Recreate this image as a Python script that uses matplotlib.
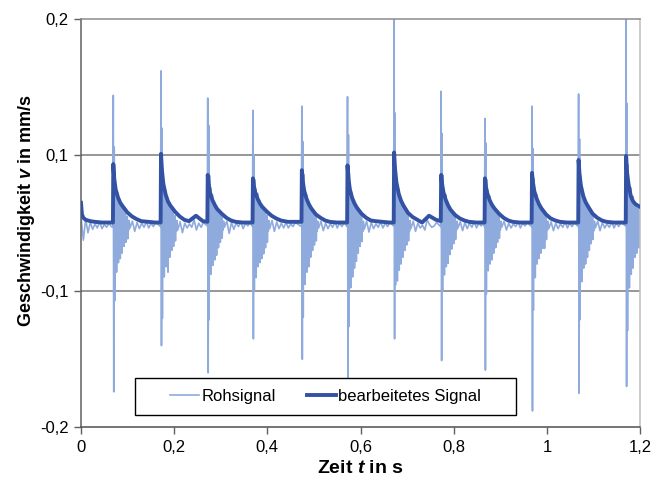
import numpy as np
import matplotlib
matplotlib.use('Agg')
import matplotlib.pyplot as plt
from matplotlib.patches import Rectangle

plt.rcParams['font.family'] = ['Liberation Sans', 'DejaVu Sans']
plt.rcParams['mathtext.fontset'] = 'custom'
plt.rcParams['mathtext.it'] = 'Liberation Sans:italic:bold'
plt.rcParams['mathtext.rm'] = 'Liberation Sans:bold'
plt.rcParams['mathtext.bf'] = 'Liberation Sans:bold'

# times of the impulses in s
spike_t = [0.0693, 0.1717, 0.272, 0.369, 0.474, 0.572, 0.672, 0.773, 0.867, 0.968, 1.068, 1.170]

# raw signal: start (5 ms step), bursts (1 ms step from spike-1ms), tails (5 ms step from spike+36ms)
raw_start = [0.010, -0.025, 0.006, -0.014, 0.001, -0.009, -0.001, -0.007, 0.002, -0.008, -0.002, -0.006, 0.000, -0.005]
raw_bursts = [
    [-0.006, 0.144, -0.174, 0.106, -0.107, 0.061, -0.040, 0.048, -0.072, 0.030, -0.050, 0.044, -0.058, 0.022, -0.035, 0.030, -0.052, 0.012, -0.030, 0.024, -0.044, 0.010, -0.022, 0.018, -0.034, 0.006, -0.018, 0.014, -0.028, 0.004, -0.014, 0.010, -0.023, 0.002, -0.010, 0.004],
    [-0.005, 0.162, -0.140, 0.120, -0.120, 0.080, -0.060, 0.055, -0.079, 0.034, -0.052, 0.048, -0.064, 0.026, -0.040, 0.036, -0.072, 0.016, -0.035, 0.028, -0.050, 0.012, -0.026, 0.020, -0.040, 0.008, -0.022, 0.016, -0.034, 0.005, -0.016, 0.011, -0.026, 0.003, -0.012, 0.004],
    [-0.004, 0.142, -0.160, 0.122, -0.121, 0.070, -0.050, 0.052, -0.075, 0.032, -0.046, 0.042, -0.062, 0.024, -0.038, 0.030, -0.054, 0.014, -0.030, 0.024, -0.047, 0.010, -0.024, 0.018, -0.036, 0.006, -0.018, 0.013, -0.028, 0.004, -0.014, 0.010, -0.022, 0.002, -0.010, 0.003],
    [-0.005, 0.133, -0.135, 0.100, -0.099, 0.064, -0.056, 0.050, -0.080, 0.036, -0.044, 0.044, -0.064, 0.026, -0.040, 0.034, -0.058, 0.018, -0.032, 0.028, -0.052, 0.012, -0.026, 0.022, -0.045, 0.008, -0.022, 0.016, -0.036, 0.005, -0.016, 0.012, -0.028, 0.003, -0.012, 0.004],
    [-0.005, 0.136, -0.150, 0.110, -0.119, 0.072, -0.062, 0.050, -0.090, 0.034, -0.050, 0.042, -0.072, 0.024, -0.044, 0.032, -0.064, 0.016, -0.036, 0.026, -0.050, 0.010, -0.028, 0.020, -0.040, 0.007, -0.022, 0.015, -0.032, 0.004, -0.016, 0.011, -0.026, 0.002, -0.012, 0.003],
    [-0.005, 0.143, -0.165, 0.115, -0.126, 0.074, -0.066, 0.052, -0.095, 0.036, -0.054, 0.044, -0.079, 0.026, -0.046, 0.034, -0.066, 0.016, -0.038, 0.026, -0.056, 0.011, -0.030, 0.020, -0.044, 0.007, -0.024, 0.015, -0.034, 0.004, -0.018, 0.011, -0.027, 0.002, -0.012, 0.003],
    [-0.004, 0.200, -0.135, 0.131, -0.091, 0.082, -0.060, 0.060, -0.085, 0.040, -0.048, 0.050, -0.069, 0.028, -0.042, 0.036, -0.060, 0.018, -0.034, 0.028, -0.050, 0.012, -0.028, 0.021, -0.040, 0.008, -0.022, 0.016, -0.032, 0.005, -0.016, 0.012, -0.026, 0.003, -0.012, 0.004],
    [-0.005, 0.147, -0.151, 0.116, -0.099, 0.070, -0.054, 0.050, -0.076, 0.034, -0.045, 0.042, -0.064, 0.024, -0.040, 0.031, -0.059, 0.015, -0.032, 0.025, -0.046, 0.010, -0.025, 0.019, -0.038, 0.006, -0.019, 0.014, -0.030, 0.004, -0.014, 0.010, -0.024, 0.002, -0.010, 0.003],
    [-0.005, 0.127, -0.158, 0.109, -0.102, 0.064, -0.050, 0.048, -0.070, 0.032, -0.042, 0.040, -0.060, 0.023, -0.036, 0.030, -0.054, 0.014, -0.030, 0.024, -0.044, 0.009, -0.024, 0.018, -0.036, 0.006, -0.018, 0.013, -0.028, 0.004, -0.013, 0.010, -0.022, 0.002, -0.010, 0.003],
    [-0.005, 0.136, -0.188, 0.105, -0.114, 0.066, -0.054, 0.050, -0.080, 0.034, -0.044, 0.042, -0.060, 0.024, -0.038, 0.031, -0.052, 0.015, -0.030, 0.025, -0.044, 0.010, -0.024, 0.019, -0.037, 0.006, -0.020, 0.014, -0.037, 0.004, -0.014, 0.010, -0.024, 0.002, -0.010, 0.003],
    [-0.005, 0.145, -0.175, 0.112, -0.121, 0.070, -0.060, 0.052, -0.086, 0.036, -0.048, 0.044, -0.066, 0.025, -0.040, 0.033, -0.060, 0.016, -0.032, 0.026, -0.050, 0.011, -0.026, 0.020, -0.040, 0.007, -0.020, 0.015, -0.030, 0.004, -0.015, 0.011, -0.024, 0.002, -0.011, 0.003],
    [-0.004, 0.200, -0.170, 0.138, -0.129, 0.086, -0.070, 0.062, -0.095, 0.044, -0.056, 0.052, -0.075, 0.032, -0.048, 0.040, -0.066, 0.022, -0.040, 0.032, -0.050, 0.016, -0.032, 0.026, -0.044, 0.012, -0.026, 0.022, -0.036, 0.010, -0.020, 0.018],
]
raw_tails = [
    [-0.007, 0.003, -0.012, 0.001, -0.008, 0.000, -0.006, 0.002, -0.007, 0.000, -0.005, 0.001],
    [-0.010, 0.002, -0.014, 0.000, -0.007, -0.001, -0.006, 0.005, -0.010, 0.000, -0.006, 0.001],
    [-0.006, 0.003, -0.015, 0.001, -0.009, 0.000, -0.005, 0.002, -0.008, 0.000, -0.004, 0.001],
    [-0.008, 0.004, -0.012, 0.002, -0.008, 0.000, -0.007, 0.001, -0.007, -0.001, -0.005, 0.001],
    [-0.007, 0.003, -0.011, 0.000, -0.008, -0.001, -0.006, 0.002, -0.007, 0.000, -0.005, 0.001],
    [-0.009, 0.003, -0.013, 0.001, -0.008, -0.001, -0.006, 0.002, -0.007, 0.000, -0.005, 0.001],
    [-0.008, 0.003, -0.012, 0.000, -0.007, -0.003, -0.010, 0.005, -0.002, -0.006, -0.004, 0.001],
    [-0.007, 0.002, -0.011, 0.001, -0.008, 0.000, -0.006, 0.002, -0.007, 0.000, -0.004, 0.001],
    [-0.006, 0.003, -0.010, 0.000, -0.007, -0.001, -0.005, 0.002, -0.007, 0.000, -0.004, 0.001],
    [-0.008, 0.002, -0.011, 0.000, -0.008, -0.001, -0.006, 0.002, -0.007, 0.000, -0.005, 0.001],
    [-0.007, 0.003, -0.011, 0.001, -0.007, -0.001, -0.006, 0.002, -0.007, 0.000, -0.005, 0.001],
    [],
]

# processed signal
proc_start_t = [0.0, 0.002, 0.005, 0.01, 0.02, 0.03, 0.045, 0.06]
proc_start = [0.030, 0.013, 0.008, 0.005, 0.003, 0.002, 0.001, 0.001]
proc_dt = [-0.0008, 0.0, 0.002, 0.005, 0.01, 0.015, 0.02, 0.03, 0.04, 0.05, 0.06, 0.075, 0.09]
proc_bursts = [
    [0.001, 0.087, 0.066, 0.050, 0.038, 0.030, 0.025, 0.016, 0.010, 0.006, 0.003, 0.002, 0.001],
    [0.001, 0.101, 0.078, 0.058, 0.042, 0.032, 0.026, 0.017, 0.010, 0.005, 0.003, 0.011, 0.003],
    [0.002, 0.071, 0.058, 0.045, 0.034, 0.027, 0.021, 0.014, 0.008, 0.004, 0.002, 0.001, 0.001],
    [0.001, 0.066, 0.055, 0.045, 0.036, 0.029, 0.024, 0.017, 0.011, 0.007, 0.004, 0.002, 0.002],
    [0.002, 0.078, 0.062, 0.048, 0.036, 0.028, 0.022, 0.013, 0.008, 0.004, 0.002, 0.001, 0.001],
    [0.001, 0.085, 0.066, 0.050, 0.037, 0.029, 0.023, 0.014, 0.008, 0.004, 0.003, 0.002, 0.001],
    [0.001, 0.102, 0.080, 0.060, 0.043, 0.033, 0.026, 0.015, 0.009, 0.005, 0.001, 0.011, 0.005],
    [0.003, 0.071, 0.058, 0.045, 0.034, 0.026, 0.020, 0.012, 0.007, 0.004, 0.002, 0.001, 0.001],
    [0.001, 0.066, 0.054, 0.044, 0.034, 0.027, 0.022, 0.014, 0.008, 0.004, 0.002, 0.001, 0.001],
    [0.001, 0.074, 0.060, 0.047, 0.036, 0.028, 0.022, 0.013, 0.007, 0.004, 0.002, 0.001, 0.001],
    [0.001, 0.093, 0.072, 0.055, 0.040, 0.031, 0.025, 0.014, 0.008, 0.004, 0.002, 0.001, 0.001],
    [0.001, 0.099, 0.075, 0.058, 0.040, 0.032, 0.028, 0.024],
]

x_ticks = [0, 0.2, 0.4, 0.6, 0.8, 1.0, 1.2]
x_labels = ['0', '0,2', '0,4', '0,6', '0,8', '1', '1,2']
y_ticks = [-0.2, -0.1, 0.1, 0.2]
y_labels = ['-0,2', '-0,1', '0,1', '0,2']

t_end = 1.2

# assemble the series
raw_t = [i * 0.005 for i in range(len(raw_start))]
raw_v = list(raw_start)
for k, ts in enumerate(spike_t):
    for i, v in enumerate(raw_bursts[k]):
        raw_t.append(ts - 0.001 + i * 0.001)
        raw_v.append(v)
    for i, v in enumerate(raw_tails[k]):
        raw_t.append(ts + 0.036 + i * 0.005)
        raw_v.append(v)
raw_t = np.array(raw_t)
raw_v = np.array(raw_v)
m = raw_t <= t_end
raw_t, raw_v = raw_t[m], raw_v[m]

proc_t = list(proc_start_t)
proc_v = list(proc_start)
for k, ts in enumerate(spike_t):
    for dt, v in zip(proc_dt, proc_bursts[k]):
        proc_t.append(ts + dt)
        proc_v.append(v)
proc_t = np.array(proc_t)
proc_v = np.array(proc_v)
m = proc_t <= t_end + 1e-9
proc_t, proc_v = proc_t[m], proc_v[m]


# the value axis has equal spacing between 0,2 / 0,1 / -0,1 / -0,2
def fwd(v):
    v = np.asarray(v, dtype=float)
    a = np.abs(v)
    return np.where(a <= 0.1, 5 * v, np.sign(v) * (0.5 + (a - 0.1) * 10))


def inv(p):
    p = np.asarray(p, dtype=float)
    a = np.abs(p)
    return np.where(a <= 0.5, p / 5, np.sign(p) * (0.1 + (a - 0.5) / 10))


fig = plt.figure(figsize=(6.64, 4.8), dpi=100)
ax = fig.add_axes([0.122, 0.110, 0.842, 0.850])
ax.set_yscale('function', functions=(fwd, inv))

ax.plot(raw_t, raw_v, color='#8faadc', lw=1.2, label='Rohsignal', zorder=2)
ax.plot(proc_t, proc_v, color='#3352a3', lw=2.8, label='bearbeitetes Signal', zorder=3)

ax.set_xlim(0, 1.2)
ax.set_ylim(-0.2, 0.2)
ax.set_xticks(x_ticks)
ax.set_xticklabels(x_labels)
ax.set_yticks(y_ticks)
ax.set_yticklabels(y_labels)
ax.yaxis.set_minor_locator(matplotlib.ticker.NullLocator())
ax.tick_params(axis='both', direction='out', length=5, width=1, color='#606060', labelsize=12, pad=4)

for y in [-0.1, 0.1]:
    ax.axhline(y, color='#7a7a7a', lw=1.1, zorder=1)

ax.spines['left'].set_color('#606060')
ax.spines['bottom'].set_color('#505050')
ax.spines['top'].set_color('#8c8c8c')
ax.spines['right'].set_color('#bfbfbf')
for s in ax.spines.values():
    s.set_linewidth(1.1)

ax.set_xlabel(r'Zeit $t$ in s', fontsize=14, fontweight='bold')
ax.xaxis.set_label_coords(0.5, -0.08)
ax.set_ylabel(r'Geschwindigkeit $v$ in mm/s', fontsize=13, fontweight='bold')
ax.yaxis.set_label_coords(-0.079, 0.53)

# legend box
bx, by, bw, bh = 0.0966, 0.029, 0.682, 0.091
ax.add_patch(Rectangle((bx, by), bw, bh, transform=ax.transAxes, facecolor='white',
                       edgecolor='black', lw=1, zorder=5))
leg = ax.legend(loc='center', bbox_to_anchor=(bx + bw / 2, by + bh / 2), ncol=2, frameon=False,
                fontsize=12, handlelength=1.7, handletextpad=0.15, columnspacing=1.9)
leg.set_zorder(6)

plt.savefig('out.png', dpi=100)
